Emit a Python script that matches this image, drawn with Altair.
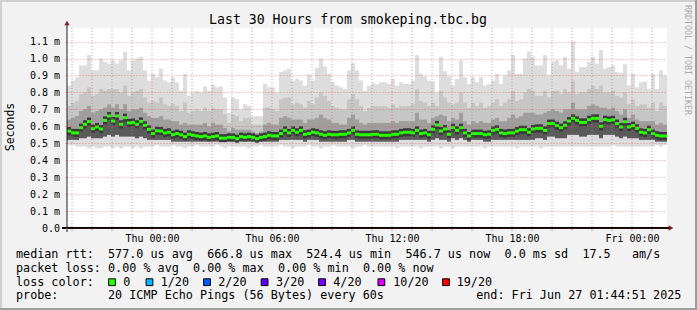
import altair as alt
import pandas as pd

# ---------------- data (values in ms) ----------------
ping_max = [
    0.84, 0.87, 0.89, 0.96, 0.96, 1.02, 0.93, 0.93, 1.00, 0.98,
    0.97, 0.99, 0.97, 0.99, 1.04, 0.93, 0.99, 1.00, 1.01, 0.93,
    0.87, 0.91, 0.89, 0.94, 0.87, 0.86, 0.89, 0.86, 0.81, 0.91,
    0.78, 0.80, 0.81, 0.80, 0.835, 0.81, 0.847, 0.83, 0.835, 0.77,
    0.68, 0.77, 0.76, 0.70, 0.73, 0.72, 0.66, 0.66, 0.66, 0.85,
    0.83, 0.83, 0.80, 0.92, 0.93, 0.94, 0.87, 0.88, 0.87, 0.84,
    0.905, 0.87, 0.945, 1.00, 0.953, 0.91, 0.86, 0.84, 0.83, 0.82,
    0.93, 0.973, 0.93, 0.87, 0.81, 0.84, 0.855, 0.847, 0.86, 0.86,
    0.85, 0.88, 0.84, 0.86, 0.85, 0.85, 0.87, 1.02, 0.91, 0.895,
    0.87, 0.865, 0.80, 1.01, 0.925, 0.895, 0.84, 0.88, 0.99, 0.89,
    0.85, 0.89, 0.86, 0.89, 0.84, 0.85, 0.87, 0.91, 0.85, 0.90,
    0.93, 1.02, 0.91, 0.91, 1.00, 1.04, 1.01, 0.96, 0.96, 1.02,
    0.90, 0.98, 0.99, 0.96, 1.01, 0.94, 1.10, 0.92, 0.95, 0.95,
    0.98, 1.01, 0.97, 1.05, 0.94, 0.95, 0.96, 0.92, 0.915, 0.965,
    0.84, 0.91, 0.83, 0.86, 0.865, 0.82, 0.91, 0.82, 0.93, 0.90,
]
ping_hi2 = [
    0.72, 0.74, 0.75, 0.79, 0.80, 0.83, 0.78, 0.79, 0.82, 0.81,
    0.82, 0.82, 0.82, 0.80, 0.84, 0.78, 0.80, 0.81, 0.82, 0.77,
    0.74, 0.75, 0.74, 0.77, 0.73, 0.72, 0.73, 0.72, 0.69, 0.74,
    0.68, 0.69, 0.70, 0.69, 0.71, 0.69, 0.71, 0.70, 0.70, 0.67,
    0.62, 0.67, 0.66, 0.63, 0.65, 0.65, 0.61, 0.61, 0.61, 0.71,
    0.71, 0.70, 0.69, 0.76, 0.77, 0.77, 0.73, 0.74, 0.73, 0.71,
    0.75, 0.73, 0.77, 0.80, 0.78, 0.75, 0.72, 0.71, 0.70, 0.70,
    0.76, 0.79, 0.76, 0.72, 0.69, 0.71, 0.72, 0.72, 0.72, 0.72,
    0.71, 0.73, 0.71, 0.72, 0.72, 0.72, 0.73, 0.82, 0.75, 0.74,
    0.72, 0.74, 0.72, 0.81, 0.77, 0.74, 0.73, 0.74, 0.80, 0.74,
    0.71, 0.74, 0.72, 0.74, 0.71, 0.72, 0.74, 0.76, 0.72, 0.74,
    0.76, 0.81, 0.75, 0.76, 0.80, 0.82, 0.81, 0.78, 0.78, 0.81,
    0.77, 0.81, 0.81, 0.79, 0.82, 0.80, 0.87, 0.79, 0.80, 0.80,
    0.82, 0.84, 0.82, 0.84, 0.80, 0.80, 0.81, 0.78, 0.77, 0.80,
    0.73, 0.76, 0.72, 0.73, 0.73, 0.71, 0.74, 0.69, 0.74, 0.72,
]
ping_hi1 = [
    0.64, 0.65, 0.66, 0.69, 0.70, 0.72, 0.68, 0.69, 0.70, 0.71,
    0.73, 0.71, 0.73, 0.70, 0.73, 0.69, 0.70, 0.70, 0.71, 0.68,
    0.66, 0.65, 0.65, 0.66, 0.64, 0.64, 0.63, 0.63, 0.61, 0.62,
    0.61, 0.61, 0.61, 0.61, 0.62, 0.60, 0.62, 0.61, 0.61, 0.59,
    0.57, 0.59, 0.58, 0.58, 0.58, 0.58, 0.57, 0.56, 0.57, 0.61,
    0.62, 0.61, 0.61, 0.65, 0.66, 0.65, 0.64, 0.64, 0.64, 0.62,
    0.64, 0.64, 0.65, 0.67, 0.65, 0.64, 0.62, 0.62, 0.61, 0.61,
    0.65, 0.67, 0.64, 0.62, 0.61, 0.62, 0.62, 0.62, 0.62, 0.62,
    0.62, 0.63, 0.62, 0.63, 0.63, 0.63, 0.63, 0.68, 0.64, 0.64,
    0.62, 0.65, 0.66, 0.67, 0.66, 0.63, 0.65, 0.64, 0.68, 0.63,
    0.61, 0.63, 0.62, 0.63, 0.62, 0.62, 0.64, 0.65, 0.63, 0.63,
    0.65, 0.67, 0.65, 0.66, 0.68, 0.68, 0.68, 0.67, 0.67, 0.68,
    0.69, 0.70, 0.69, 0.68, 0.70, 0.70, 0.74, 0.70, 0.70, 0.70,
    0.72, 0.73, 0.72, 0.71, 0.71, 0.70, 0.71, 0.69, 0.67, 0.70,
    0.65, 0.67, 0.64, 0.63, 0.63, 0.63, 0.63, 0.61, 0.62, 0.61,
]
median_rtt = [
    0.572, 0.561, 0.561, 0.592, 0.612, 0.628, 0.586, 0.596, 0.584, 0.635,
    0.661, 0.631, 0.661, 0.612, 0.651, 0.620, 0.623, 0.612, 0.629, 0.606,
    0.582, 0.557, 0.574, 0.572, 0.561, 0.565, 0.551, 0.557, 0.550, 0.539,
    0.553, 0.547, 0.543, 0.539, 0.543, 0.535, 0.539, 0.543, 0.530, 0.530,
    0.535, 0.535, 0.527, 0.539, 0.535, 0.539, 0.535, 0.527, 0.535, 0.539,
    0.547, 0.543, 0.543, 0.557, 0.576, 0.561, 0.576, 0.565, 0.576, 0.553,
    0.557, 0.565, 0.561, 0.553, 0.547, 0.553, 0.550, 0.550, 0.553, 0.553,
    0.561, 0.576, 0.553, 0.550, 0.550, 0.550, 0.553, 0.553, 0.547, 0.547,
    0.547, 0.553, 0.553, 0.561, 0.565, 0.565, 0.561, 0.576, 0.557, 0.561,
    0.550, 0.582, 0.608, 0.572, 0.584, 0.553, 0.592, 0.576, 0.592, 0.561,
    0.543, 0.557, 0.557, 0.557, 0.550, 0.553, 0.576, 0.582, 0.561, 0.557,
    0.561, 0.561, 0.572, 0.580, 0.580, 0.565, 0.584, 0.588, 0.588, 0.576,
    0.616, 0.616, 0.604, 0.592, 0.606, 0.631, 0.647, 0.635, 0.623, 0.623,
    0.639, 0.647, 0.647, 0.600, 0.639, 0.635, 0.639, 0.616, 0.596, 0.627,
    0.596, 0.604, 0.588, 0.565, 0.561, 0.580, 0.557, 0.547, 0.543, 0.543,
]
ping_lo1 = [
    0.52, 0.52, 0.52, 0.53, 0.53, 0.54, 0.53, 0.53, 0.53, 0.54,
    0.55, 0.54, 0.55, 0.54, 0.54, 0.54, 0.54, 0.53, 0.54, 0.53,
    0.52, 0.52, 0.52, 0.52, 0.52, 0.52, 0.51, 0.51, 0.51, 0.51,
    0.51, 0.51, 0.51, 0.51, 0.51, 0.51, 0.51, 0.51, 0.51, 0.51,
    0.51, 0.51, 0.51, 0.51, 0.51, 0.51, 0.51, 0.51, 0.51, 0.51,
    0.51, 0.51, 0.51, 0.52, 0.52, 0.52, 0.52, 0.52, 0.52, 0.51,
    0.52, 0.52, 0.52, 0.51, 0.51, 0.51, 0.51, 0.51, 0.51, 0.51,
    0.52, 0.52, 0.51, 0.51, 0.51, 0.51, 0.51, 0.51, 0.51, 0.51,
    0.51, 0.51, 0.51, 0.52, 0.52, 0.52, 0.52, 0.52, 0.52, 0.52,
    0.51, 0.52, 0.53, 0.52, 0.52, 0.51, 0.53, 0.52, 0.53, 0.52,
    0.51, 0.52, 0.52, 0.52, 0.51, 0.51, 0.52, 0.52, 0.52, 0.52,
    0.52, 0.52, 0.52, 0.52, 0.52, 0.52, 0.52, 0.53, 0.53, 0.52,
    0.54, 0.54, 0.53, 0.53, 0.53, 0.55, 0.55, 0.55, 0.54, 0.54,
    0.55, 0.55, 0.55, 0.53, 0.55, 0.55, 0.55, 0.54, 0.53, 0.54,
    0.53, 0.53, 0.53, 0.52, 0.52, 0.52, 0.52, 0.51, 0.51, 0.51,
]
ping_min = [
    0.49, 0.49, 0.48, 0.48, 0.48, 0.47, 0.48, 0.47, 0.47, 0.48,
    0.48, 0.47, 0.48, 0.47, 0.48, 0.48, 0.47, 0.48, 0.47, 0.48,
    0.48, 0.48, 0.49, 0.48, 0.48, 0.48, 0.49, 0.48, 0.48, 0.47,
    0.48, 0.48, 0.49, 0.48, 0.48, 0.48, 0.48, 0.49, 0.48, 0.47,
    0.48, 0.48, 0.48, 0.48, 0.48, 0.47, 0.48, 0.48, 0.49, 0.48,
    0.48, 0.48, 0.48, 0.49, 0.48, 0.48, 0.47, 0.48, 0.48, 0.48,
    0.49, 0.48, 0.48, 0.47, 0.48, 0.48, 0.49, 0.48, 0.48, 0.48,
    0.48, 0.47, 0.48, 0.48, 0.49, 0.48, 0.48, 0.48, 0.48, 0.48,
    0.48, 0.48, 0.47, 0.48, 0.48, 0.48, 0.48, 0.48, 0.47, 0.48,
    0.48, 0.48, 0.48, 0.47, 0.48, 0.48, 0.47, 0.48, 0.48, 0.48,
    0.48, 0.48, 0.48, 0.48, 0.47, 0.48, 0.48, 0.48, 0.48, 0.48,
    0.48, 0.48, 0.47, 0.48, 0.48, 0.48, 0.48, 0.48, 0.47, 0.48,
    0.48, 0.48, 0.48, 0.48, 0.48, 0.48, 0.48, 0.48, 0.48, 0.48,
    0.48, 0.48, 0.48, 0.48, 0.48, 0.48, 0.49, 0.48, 0.48, 0.48,
    0.48, 0.48, 0.48, 0.48, 0.48, 0.48, 0.48, 0.49, 0.48, 0.49,
]

loss_labels = ["0", "1/20", "2/20", "3/20", "4/20", "10/20", "19/20"]
loss_colors = ["#26ff00", "#00b8ff", "#0059ff", "#5e00ff", "#7e00ff", "#dd00ff", "#ff0000"]

title_text = "Last 30 Hours from smokeping.tbc.bg"
row1 = [(0, "median rtt:"), (13, "577.0 us avg"), (27, "666.8 us max"), (41, "524.4 us min"),
        (55, "546.7 us now"), (69, "0.0 ms sd"), (80, "17.5"), (87, "am/s")]
row2 = [(0, "packet loss:"), (13, "0.00 % avg"), (25, "0.00 % max"), (37, "0.00 % min"), (49, "0.00 % now")]
row4 = [(0, "probe:"), (13, "20 ICMP Echo Pings (56 Bytes) every 60s"), (65, "end: Fri Jun 27 01:44:51 2025")]

# ---------------- layout constants ----------------
PL, PT, W, H = 67, 28, 600, 200
start_ts = pd.Timestamp("2025-06-25T19:45:00Z")
end_ts = pd.Timestamp("2025-06-27T01:45:00Z")
start_ms = int(start_ts.timestamp() * 1000)
end_ms = int(end_ts.timestamp() * 1000)
step_ms = 12 * 60 * 1000
n = len(median_rtt)

df = pd.DataFrame({
    "t0": [start_ms + i * step_ms for i in range(n)],
    "t1": [start_ms + (i + 1) * step_ms for i in range(n)],
    "tm": [start_ms + i * step_ms + step_ms // 2 for i in range(n)],
    "mx": ping_max, "hi2": ping_hi2, "hi1": ping_hi1,
    "med": median_rtt, "lo1": ping_lo1, "mn": ping_min,
})

# hourly grid times inside the time range
hours = pd.date_range(start_ts.ceil("h"), end_ts, freq="h")
hour_ms = [int(h.timestamp() * 1000) for h in hours]
minor_df = pd.DataFrame({"t": [m for m, h in zip(hour_ms, hours) if h.hour % 3 != 0]})
major_df = pd.DataFrame({"t": [m for m, h in zip(hour_ms, hours) if h.hour % 3 == 0]})
label_vals = [m for m, h in zip(hour_ms, hours) if h.hour % 6 == 0]

MONO = "DejaVu Sans Mono"
MGRID = "rgba(222,79,79,0.6)"
GRID = "rgba(143,143,143,0.75)"
xscale = alt.Scale(type="utc", domain=[start_ms, end_ms], nice=False)
yscale = alt.Scale(domain=[0, 1.18], nice=False, zero=True)

xaxis = alt.Axis(
    values=label_vals,
    labelExpr="utcFormat(datum.value, '%a %H:%M')",
    grid=False, domain=False, ticks=False,
    labelFont=MONO, labelFontSize=10, labelColor="#000000", labelPadding=5.6,
    labelOverlap=False, labelBaseline="top", title=None,
)
yaxis = alt.Axis(
    values=[round(0.1 * k, 1) for k in range(12)],
    labelExpr="datum.value == 0 ? '0.0' : format(datum.value, '.1f') + ' m'",
    grid=True, gridColor=MGRID, gridDash=[1, 2], gridWidth=1,
    domain=False, ticks=True, tickSize=2, tickColor=MGRID,
    labelFont=MONO, labelFontSize=10, labelColor="#000000", labelPadding=5.5,
    zindex=1, title=None,
)

XT = lambda f: alt.X(f, type="temporal", scale=xscale, axis=xaxis, title=None)
YQ = lambda f: alt.Y(f, type="quantitative", scale=yscale, axis=yaxis, title=None)

base = alt.Chart(df)


def band(lo, hi, color):
    return base.mark_rect(color=color, opacity=1).encode(
        x=XT("t0"), x2="t1:T", y=YQ(lo), y2=f"{hi}:Q")


smoke = [
    band("mn", "mx", "#dddddd"),
    band("lo1", "hi2", "#c6c6c6"),
    band("lo1", "hi1", "#9e9e9e"),
    band("lo1", "med", "#5a5a5a"),
]

# dark core of the smoke around the median, then the median itself
core = base.mark_tick(color="#3a3a3a", orient="horizontal", thickness=8, size=4, opacity=1).encode(
    x=XT("tm"), y=YQ("med"))
median = base.mark_tick(color="#26ff00", orient="horizontal", thickness=3, size=4, opacity=1).encode(
    x=XT("tm"), y=YQ("med"))

vgrid = [
    alt.Chart(minor_df).mark_rule(color=GRID, strokeDash=[1, 2], strokeWidth=1).encode(
        x=XT("t"), y=alt.value(0), y2=alt.value(H)),
    alt.Chart(major_df).mark_rule(color=MGRID, strokeDash=[1, 2], strokeWidth=1).encode(
        x=XT("t"), y=alt.value(0), y2=alt.value(H)),
    alt.Chart(minor_df).mark_rule(color=GRID, strokeWidth=1).encode(
        x=XT("t"), y=alt.value(H + 1), y2=alt.value(H + 3)),
    alt.Chart(major_df).mark_rule(color=MGRID, strokeWidth=1).encode(
        x=XT("t"), y=alt.value(H + 1), y2=alt.value(H + 3)),
]

one = alt.Data(values=[{"k": 0}])


def txt(s, x, y, size=11.76, align="left", baseline="alphabetic", angle=0, color="#000000"):
    return alt.Chart(alt.Data(values=[{"s": s}])).mark_text(
        align=align, baseline=baseline, angle=angle, fontSize=size, font=MONO, color=color
    ).encode(x=alt.value(x - PL), y=alt.value(y - PT), text="s:N")


def rule(x, y, x2=None, y2=None, color="#000000", width=1):
    enc = {"x": alt.value(x - PL), "y": alt.value(y - PT)}
    if x2 is not None:
        enc["x2"] = alt.value(x2 - PL)
    if y2 is not None:
        enc["y2"] = alt.value(y2 - PT)
    return alt.Chart(one).mark_rule(color=color, strokeWidth=width).encode(**enc)


deco = [
    rule(0, 1, x2=697, color="#cfcfcf", width=2),
    rule(1, 0, y2=310, color="#cfcfcf", width=2),
    rule(0, 309, x2=697, color="#9e9e9e", width=2),
    rule(696, 0, y2=310, color="#9e9e9e", width=2),
    rule(62, 228, x2=670, color="#000000", width=2),
    rule(67, 24, y2=232, color="#1f1f1f", width=1),
    alt.Chart(one).mark_point(shape="triangle-up", filled=True, size=28, color="#801f1f", opacity=1).encode(
        x=alt.value(0), y=alt.value(23 - PT)),
    alt.Chart(one).mark_point(shape="triangle-right", filled=True, size=28, color="#801f1f", opacity=1).encode(
        x=alt.value(671 - PL), y=alt.value(228 - PT)),
]

texts = [
    txt(title_text, 348, 24, size=13.2, align="center"),
    txt("Seconds", 14.3, 127, size=11.5, align="center", angle=270),
    txt("RRDTOOL / TOBI OETIKER", 687, 5, size=8.3, align="left", baseline="middle", angle=90, color="#ababab"),
]
ADV = 7.08
for col, s in row1:
    texts.append(txt(s, 16 + col * ADV, 258.3))
for col, s in row2:
    texts.append(txt(s, 16 + col * ADV, 272.0))
texts.append(txt("loss color:", 16, 285.7))
for col, s in row4:
    texts.append(txt(s, 16 + col * ADV, 299.4))

box_x = [112, 149.5, 207, 264.6, 322, 381.4, 446]
label_x = [123.3, 160.7, 218.3, 276, 333.3, 393.3, 456.7]
legend = []
for lab, colr, bx, lx in zip(loss_labels, loss_colors, box_x, label_x):
    legend.append(alt.Chart(one).mark_square(size=46, color=colr, stroke="#000000", strokeWidth=1,
                                             filled=True, opacity=1).encode(
        x=alt.value(bx - PL), y=alt.value(282.2 - PT)))
    legend.append(txt(lab, lx, 285.7))

chart = alt.layer(*smoke, core, median, *vgrid, *deco, *texts, *legend).properties(
    width=W, height=H,
    padding={"left": PL, "top": PT, "right": 697 - PL - W, "bottom": 310 - PT - H},
    autosize=alt.AutoSizeParams(type="none"),
    background="#f2f2f2",
).configure_view(fill="white", stroke=None)

chart.save("out.html", embed_options={"renderer": "svg", "actions": False})
